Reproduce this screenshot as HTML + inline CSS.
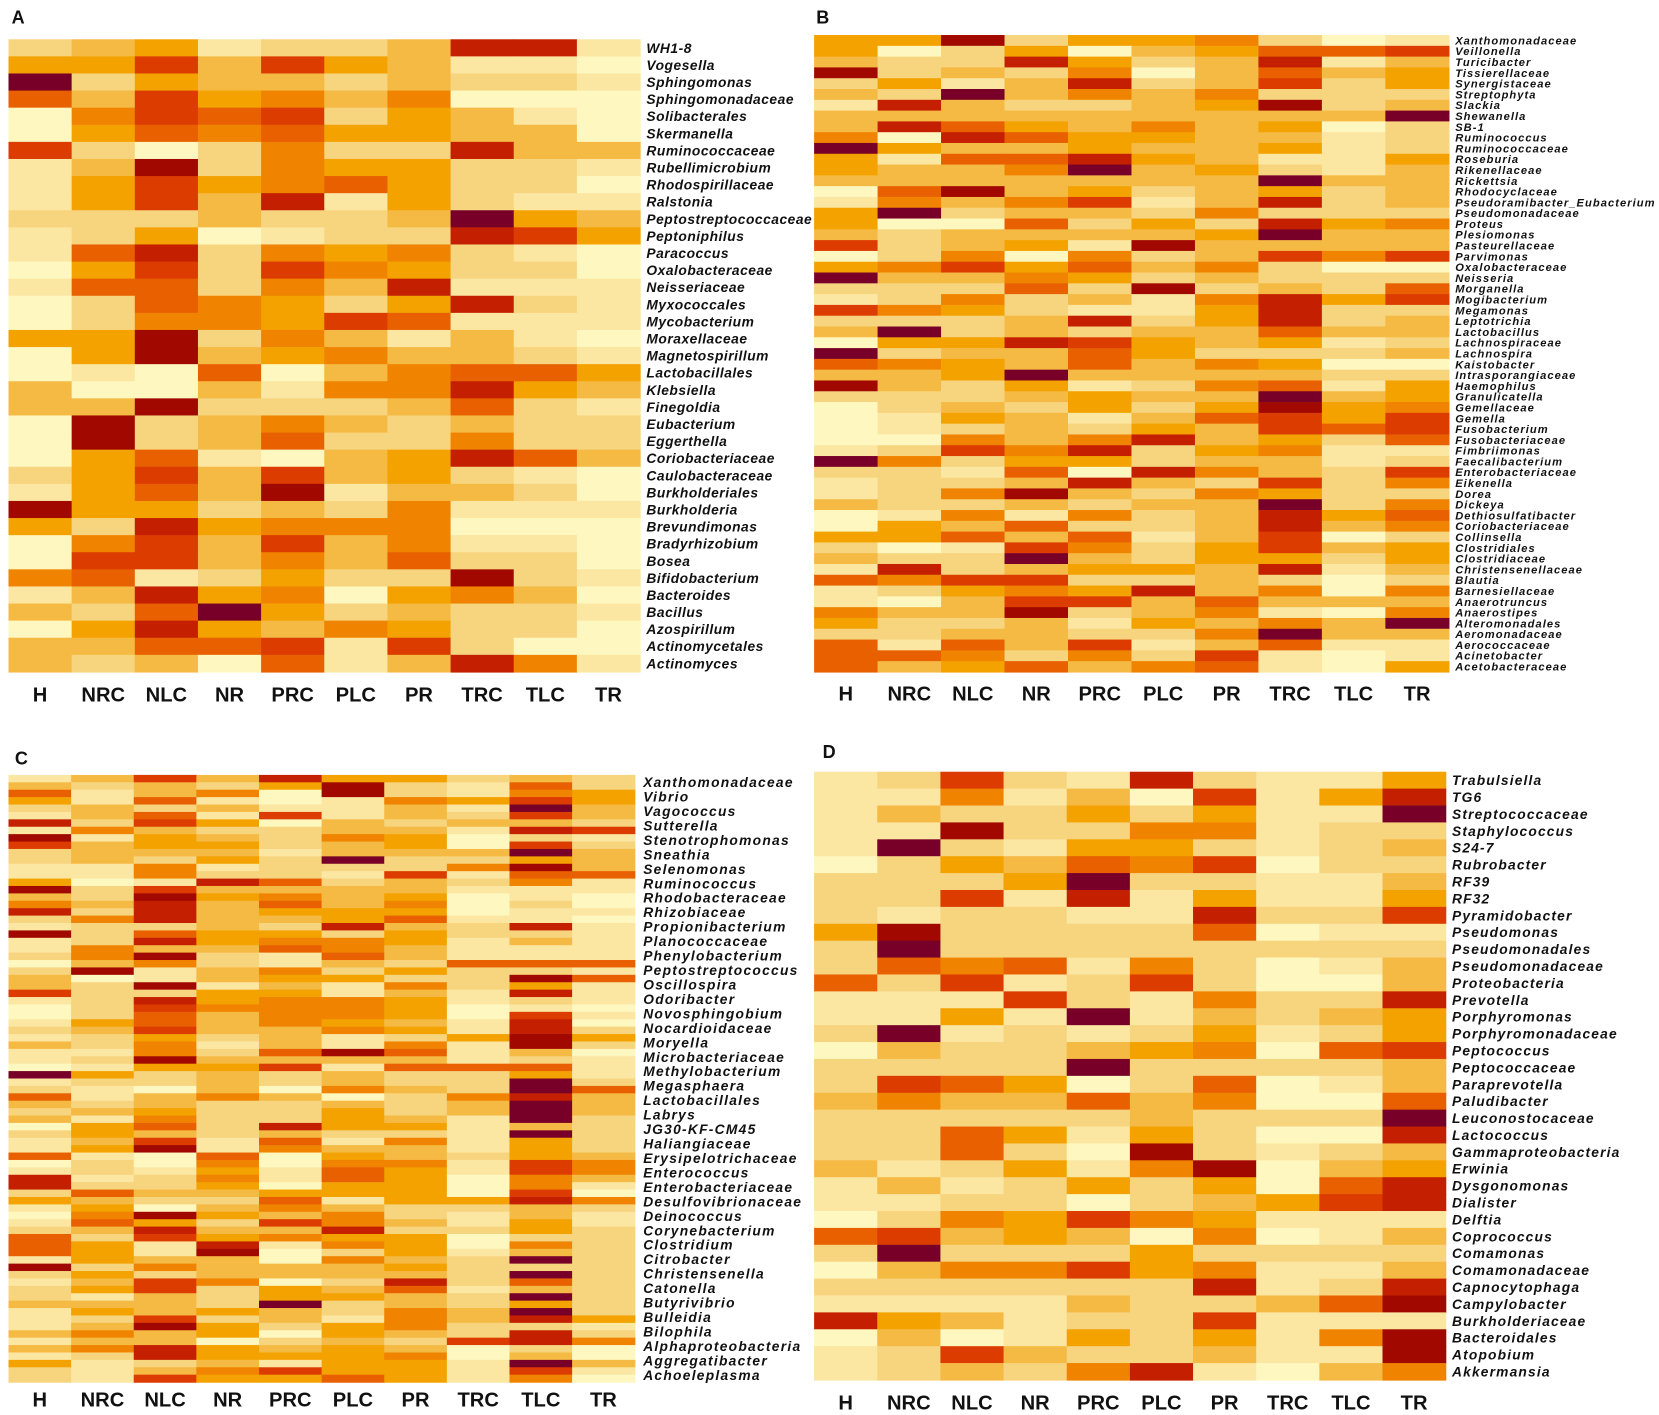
<!DOCTYPE html>
<html><head><meta charset="utf-8"><style>
html,body{margin:0;padding:0;background:#fff}
svg{display:block}
text{font-family:"Liberation Sans",Arial,sans-serif}
</style></head><body>
<svg id="fig" width="1659" height="1415" viewBox="0 0 1563 1333" preserveAspectRatio="none" xmlns="http://www.w3.org/2000/svg"></svg>
<script>
const columns = ["H","NRC","NLC","NR","PRC","PLC","PR","TRC","TLC","TR"];
const palette = ["#fff7c0","#fbe6a2","#f7d47e","#f5ba44","#f3a200","#f08400","#e86000","#dc3c00","#c42000","#a00800","#780028"];

const taxaA = ["WH1-8","Vogesella","Sphingomonas","Sphingomonadaceae","Solibacterales","Skermanella","Ruminococcaceae","Rubellimicrobium","Rhodospirillaceae","Ralstonia","Peptostreptococcaceae","Peptoniphilus","Paracoccus","Oxalobacteraceae","Neisseriaceae","Myxococcales","Mycobacterium","Moraxellaceae","Magnetospirillum","Lactobacillales","Klebsiella","Finegoldia","Eubacterium","Eggerthella","Coriobacteriaceae","Caulobacteraceae","Burkholderiales","Burkholderia","Brevundimonas","Bradyrhizobium","Bosea","Bifidobacterium","Bacteroides","Bacillus","Azospirillum","Actinomycetales","Actinomyces"];
const valuesA = [
[2,3,4,1,2,2,3,8,8,1],[4,4,7,3,7,4,3,1,1,0],[10,2,4,3,3,2,3,2,2,1],[6,3,7,4,5,3,5,0,0,0],
[0,5,7,6,7,2,4,3,1,0],[0,4,6,5,6,4,4,3,3,0],[7,2,0,2,5,2,2,8,3,3],[1,3,9,2,5,4,4,2,2,1],
[1,4,7,4,5,6,4,2,2,0],[1,4,7,3,8,1,4,2,1,1],[2,2,2,3,2,2,3,10,4,3],[1,2,4,0,1,2,2,8,7,4],
[1,6,8,2,5,4,5,2,1,0],[0,4,7,2,7,5,4,2,2,0],[1,6,6,2,5,3,8,1,1,1],[0,2,6,5,4,2,4,8,2,1],
[0,2,5,5,4,7,6,1,1,1],[4,4,9,2,5,3,1,3,1,0],[0,4,9,3,4,5,3,3,2,1],[0,1,0,6,0,3,5,6,6,4],
[3,0,0,3,1,5,5,8,4,3],[3,3,9,2,2,2,3,6,2,1],[0,9,2,3,5,3,2,3,2,2],[0,9,2,3,6,2,2,5,2,2],
[0,4,6,1,0,3,4,8,6,3],[2,4,7,3,7,3,4,2,1,0],[1,4,6,3,9,1,3,3,2,0],[9,4,4,2,3,2,5,1,1,1],
[4,2,8,4,5,5,5,0,0,0],[0,5,7,3,7,3,5,1,1,0],[0,7,7,3,5,3,6,2,2,0],[5,6,1,2,4,2,2,9,2,1],
[1,3,8,4,5,0,4,5,3,0],[3,2,6,10,4,2,3,2,2,1],[0,4,8,4,3,5,4,2,2,0],[3,3,6,6,7,1,7,2,0,0],
[3,2,3,0,6,1,3,8,5,1]];

const taxaB = ["Xanthomonadaceae","Veillonella","Turicibacter","Tissierellaceae","Synergistaceae","Streptophyta","Slackia","Shewanella","SB-1","Ruminococcus","Ruminococcaceae","Roseburia","Rikenellaceae","Rickettsia","Rhodocyclaceae","Pseudoramibacter_Eubacterium","Pseudomonadaceae","Proteus","Plesiomonas","Pasteurellaceae","Parvimonas","Oxalobacteraceae","Neisseria","Morganella","Mogibacterium","Megamonas","Leptotrichia","Lactobacillus","Lachnospiraceae","Lachnospira","Kaistobacter","Intrasporangiaceae","Haemophilus","Granulicatella","Gemellaceae","Gemella","Fusobacterium","Fusobacteriaceae","Fimbriimonas","Faecalibacterium","Enterobacteriaceae","Eikenella","Dorea","Dickeya","Dethiosulfatibacter","Coriobacteriaceae","Collinsella","Clostridiales","Clostridiaceae","Christensenellaceae","Blautia","Barnesiellaceae","Anaerotruncus","Anaerostipes","Alteromonadales","Aeromonadaceae","Aerococcaceae","Acinetobacter","Acetobacteraceae"];
const valuesB = [
[4,4,9,2,4,4,5,2,0,1],[4,0,2,4,0,3,4,6,6,7],[3,2,2,8,4,2,3,8,1,3],[9,2,3,2,5,0,3,6,3,4],
[2,4,1,3,8,2,3,7,2,4],[3,2,10,3,5,3,5,2,2,2],[1,8,3,2,2,3,4,9,2,3],[3,3,3,3,3,3,3,3,3,10],
[3,8,6,4,3,5,3,4,0,2],[5,0,8,6,4,4,3,3,1,2],[10,4,3,3,4,3,3,4,1,2],[4,1,6,6,8,4,3,1,1,4],
[4,3,3,5,10,3,4,2,1,3],[3,3,3,3,3,3,3,10,3,3],[0,6,9,3,4,2,3,4,2,3],[1,5,3,5,7,1,3,8,2,3],
[4,10,2,3,3,2,5,2,2,2],[4,0,0,6,2,4,2,8,4,5],[3,2,3,3,3,3,4,10,3,3],[7,2,3,4,1,9,3,3,3,3],
[0,2,5,0,5,2,3,7,5,7],[4,5,7,4,6,3,5,2,0,0],[10,3,3,5,4,2,3,2,2,2],[2,2,2,6,2,9,2,3,2,6],
[1,2,5,2,3,1,5,8,4,7],[7,5,4,2,1,1,4,8,2,2],[2,2,2,3,8,2,4,8,2,3],[3,10,2,3,2,3,3,6,3,3],
[0,4,4,8,7,4,3,4,1,2],[10,2,3,3,6,4,2,2,2,3],[6,5,4,3,6,3,5,4,0,0],[3,3,4,10,3,3,3,3,2,2],
[9,3,2,4,1,2,5,6,1,4],[2,2,2,3,4,3,3,10,3,4],[0,2,3,2,4,2,4,9,4,5],[0,1,4,3,1,3,6,7,4,7],
[0,1,2,3,2,4,3,7,6,7],[0,0,5,3,5,8,3,4,2,6],[1,2,7,5,8,2,4,5,1,1],[10,5,2,4,4,2,3,3,1,2],
[2,2,1,6,0,8,5,3,2,7],[1,2,2,3,8,3,2,7,2,5],[1,2,5,9,3,2,5,4,2,2],[3,2,2,3,2,3,3,10,2,5],
[0,1,5,1,5,2,3,8,4,6],[0,4,3,6,2,2,3,8,3,5],[4,4,6,3,6,1,3,7,0,2],[2,0,1,7,5,2,4,7,3,4],
[3,2,2,10,3,2,4,4,2,4],[1,8,2,3,4,4,3,8,1,3],[6,5,7,7,2,2,3,2,0,2],[1,2,4,5,4,8,3,5,0,5],
[1,0,3,7,7,3,6,3,3,3],[5,3,3,9,2,3,5,1,0,5],[4,2,2,3,1,4,3,5,3,10],[2,2,3,3,2,2,5,10,3,3],
[6,1,6,3,7,1,3,6,1,1],[6,6,5,2,5,2,7,1,0,1],[6,3,4,6,3,5,6,1,0,4]];

const taxaC = ["Xanthomonadaceae","Vibrio","Vagococcus","Sutterella","Stenotrophomonas","Sneathia","Selenomonas","Ruminococcus","Rhodobacteraceae","Rhizobiaceae","Propionibacterium","Planococcaceae","Phenylobacterium","Peptostreptococcus","Oscillospira","Odoribacter","Novosphingobium","Nocardioidaceae","Moryella","Microbacteriaceae","Methylobacterium","Megasphaera","Lactobacillales","Labrys","JG30-KF-CM45","Haliangiaceae","Erysipelotrichaceae","Enterococcus","Enterobacteriaceae","Desulfovibrionaceae","Deinococcus","Corynebacterium","Clostridium","Citrobacter","Christensenella","Catonella","Butyrivibrio","Bulleidia","Bilophila","Alphaproteobacteria","Aggregatibacter","Achoeleplasma"];
const valuesC = [
[1,3,7,3,8,4,4,2,3,2],[3,2,3,2,4,9,2,1,6,2],[6,1,3,5,0,9,2,1,5,4],[4,1,6,1,0,1,5,4,7,4],
[2,3,2,3,1,1,3,1,10,3],[1,3,6,1,7,1,3,2,7,3],[8,2,7,4,0,3,2,3,3,2],[1,5,3,2,2,3,3,1,8,7],
[9,1,4,3,2,5,4,0,2,1],[7,3,4,4,2,3,4,0,7,2],[2,3,3,3,1,3,3,3,10,3],[2,3,2,4,2,10,2,2,4,3],
[1,1,5,1,2,2,2,5,9,3],[1,1,5,2,2,1,7,1,6,6],[4,0,1,8,6,2,3,2,5,1],[9,2,7,3,3,3,3,1,1,1],
[3,2,9,4,5,3,4,0,1,0],[5,3,8,3,6,3,5,0,2,0],[8,2,8,3,4,4,4,0,1,1],[2,5,8,3,3,4,6,1,1,0],
[1,2,2,3,2,8,3,2,8,1],[9,2,6,4,4,2,4,2,2,1],[1,2,8,4,5,5,4,1,3,1],[1,5,3,3,6,5,3,1,1,1],
[2,5,9,2,1,6,3,1,1,1],[0,3,5,2,1,3,2,6,6,6],[2,9,1,3,5,2,4,2,2,1],[3,0,1,3,4,4,2,2,9,6],
[3,2,9,1,3,1,5,2,4,1],[7,2,2,4,4,1,3,1,8,1],[1,2,8,4,5,5,4,1,2,1],[0,2,7,5,5,5,4,0,1,0],
[0,2,6,3,5,5,4,0,7,1],[1,4,6,3,5,4,3,1,8,0],[2,3,7,3,3,5,4,1,8,2],[1,2,4,2,3,1,2,4,9,4],
[3,2,5,1,3,1,5,1,9,2],[1,1,5,2,6,9,6,1,3,0],[1,2,9,3,3,3,3,1,2,1],[0,1,4,4,7,1,6,6,6,1],
[10,4,2,3,2,3,2,2,4,1],[1,2,2,3,2,3,2,2,10,2],[2,1,0,3,0,5,3,2,10,6],[6,1,3,5,3,0,2,5,8,3],
[3,2,3,2,2,3,2,3,10,3],[2,3,4,2,2,4,2,3,10,3],[3,1,5,2,2,4,3,1,10,2],[0,4,6,2,8,4,4,1,3,2],
[2,4,3,2,3,2,2,1,10,2],[1,3,7,1,6,1,5,1,4,2],[1,4,9,1,5,3,3,1,4,2],[6,1,0,6,0,4,3,2,4,3],
[0,2,0,5,0,5,5,1,7,5],[1,2,1,4,1,6,4,1,7,5],[8,1,2,5,1,6,4,0,5,3],[8,2,2,4,0,4,4,0,5,1],
[2,6,3,3,4,4,4,0,7,0],[4,3,2,2,6,1,4,4,8,5],[1,4,0,3,5,3,2,2,3,2],[0,5,9,4,3,5,2,1,3,1],
[1,6,4,2,7,5,3,1,4,1],[2,3,8,3,3,8,2,2,4,2],[6,2,7,4,5,4,4,0,2,2],[6,4,1,8,1,5,4,0,5,2],
[6,4,1,9,0,2,4,1,3,2],[1,4,3,3,0,5,3,2,10,2],[9,2,5,3,3,3,4,2,2,2],[2,4,2,3,3,3,3,2,10,2],
[1,3,7,5,0,2,8,2,6,2],[2,4,7,2,4,3,6,1,3,2],[2,1,3,2,4,4,3,2,10,2],[3,3,3,2,10,2,3,2,4,2],
[1,4,3,4,3,2,5,3,10,2],[1,2,7,2,3,1,5,3,8,4],[1,3,9,4,2,4,5,2,2,1],[3,5,3,4,0,4,3,2,8,2],
[1,3,3,0,2,3,2,7,8,5],[3,5,8,4,3,4,3,0,2,0],[1,2,8,4,4,4,5,0,3,0],[4,1,2,3,1,4,4,1,10,3],
[2,1,3,5,7,4,4,1,7,1],[2,1,7,4,4,6,4,1,5,0]];

const taxaD = ["Trabulsiella","TG6","Streptococcaceae","Staphylococcus","S24-7","Rubrobacter","RF39","RF32","Pyramidobacter","Pseudomonas","Pseudomonadales","Pseudomonadaceae","Proteobacteria","Prevotella","Porphyromonas","Porphyromonadaceae","Peptococcus","Peptococcaceae","Paraprevotella","Paludibacter","Leuconostocaceae","Lactococcus","Gammaproteobacteria","Erwinia","Dysgonomonas","Dialister","Delftia","Coprococcus","Comamonas","Comamonadaceae","Capnocytophaga","Campylobacter","Burkholderiaceae","Bacteroidales","Atopobium","Akkermansia"];
const valuesD = [
[1,2,7,2,1,8,2,1,1,4],[1,1,5,1,3,0,7,1,4,8],[1,3,2,2,4,2,4,1,1,10],[1,1,9,2,2,5,5,1,2,2],
[1,10,2,1,4,4,2,1,2,3],[0,2,4,3,6,5,7,0,2,2],[2,2,2,4,10,2,2,1,1,3],[2,2,7,1,8,1,4,1,1,4],
[2,1,2,2,1,1,8,2,2,7],[4,9,2,2,2,2,6,0,1,1],[2,10,2,2,2,2,2,2,2,2],[2,6,5,6,1,5,2,0,1,3],
[6,2,7,1,2,7,2,0,0,3],[1,1,1,7,2,1,5,2,2,8],[1,1,4,1,10,1,3,2,3,4],[2,10,1,2,1,2,4,1,2,4],
[0,3,2,2,3,4,5,0,6,7],[2,2,2,2,10,2,2,2,2,3],[2,7,6,4,0,2,6,0,1,3],[3,5,3,3,6,3,5,0,0,6],
[2,2,2,2,2,3,2,2,2,10],[2,2,6,4,1,4,2,0,0,8],[2,2,6,2,0,9,2,1,2,3],[3,1,2,4,1,5,9,0,3,4],
[1,3,1,2,4,2,4,0,6,8],[1,1,2,2,0,2,3,4,7,8],[0,2,5,4,7,5,4,1,1,1],[6,7,3,4,3,0,5,0,1,3],
[2,10,2,2,2,4,2,2,2,2],[0,3,5,5,7,4,5,1,1,3],[2,2,2,2,2,2,8,1,2,8],[1,1,1,1,3,2,2,3,6,9],
[8,4,3,1,2,2,7,1,1,1],[0,3,0,1,4,2,4,1,5,9],[1,2,7,3,2,2,3,1,1,9],[1,2,3,2,5,8,1,0,3,5]];

const svg = document.getElementById('fig');
const NS = 'http://www.w3.org/2000/svg';
function mk(tag, attrs, parent){ const e=document.createElementNS(NS,tag); for(const k in attrs) e.setAttribute(k,attrs[k]); parent.appendChild(e); return e; }

function panel(cfg){
  const g = mk('g',{},svg);
  
  
  const nR = cfg.values.length, nC = columns.length;
  const cw = (cfg.x1 - cfg.x0)/nC, rh = (cfg.y1 - cfg.y0)/nR;
  const xs = c => cfg.x0 + c*cw;
  const ys = r => cfg.y0 + r*rh;
  cfg.values.forEach((row, r) => row.forEach((v, c) => {
    const rc = mk('rect',{x:xs(c).toFixed(2), y:ys(r).toFixed(2), width:(cw+0.6).toFixed(2), height:(rh+0.6).toFixed(2), fill:palette[v]}, g);
    
    
  }));
  const nL = cfg.taxa.length, lh = (cfg.y1 - cfg.y0)/nL;
  cfg.taxa.forEach((t, i) => {
    const tx = mk('text',{x:cfg.labelX, y:(cfg.y0 + (i+0.5)*lh + cfg.fs*0.36).toFixed(2), 'font-size':cfg.fs, 'letter-spacing':cfg.ls, 'font-style':'italic', 'font-weight':'bold', fill:'#111'}, g);
    tx.textContent = t;
    
    
  });
  columns.forEach((c, i) => {
    const tx = mk('text',{x:(xs(i)+cw/2).toFixed(2), y:cfg.colY, 'font-size':19, 'font-weight':'bold', 'text-anchor':'middle', fill:'#111'}, g);
    tx.textContent = c;
    
    
  });
  const lt = mk('text',{x:cfg.lx, y:cfg.ly, 'font-size':17, 'font-weight':'bold', fill:'#111'}, g);
  lt.textContent = cfg.letter;
  
  
}

panel({letter:'A', taxa:taxaA, values:valuesA, x0:8, x1:603, y0:37, y1:633, labelX:609, fs:13, ls:0.5, colY:661, lx:11, ly:22});
panel({letter:'B', taxa:taxaB, values:valuesB, x0:767, x1:1365, y0:33, y1:633, labelX:1371, fs:10.5, ls:1.0, colY:660, lx:769, ly:22});
panel({letter:'C', taxa:taxaC, values:valuesC, x0:8, x1:598, y0:730, y1:1302, labelX:606, fs:13, ls:1.2, colY:1325, lx:14, ly:720});
panel({letter:'D', taxa:taxaD, values:valuesD, x0:767, x1:1362, y0:727, y1:1300, labelX:1368, fs:13, ls:1.1, colY:1328, lx:775, ly:714});
</script>
</body></html>
